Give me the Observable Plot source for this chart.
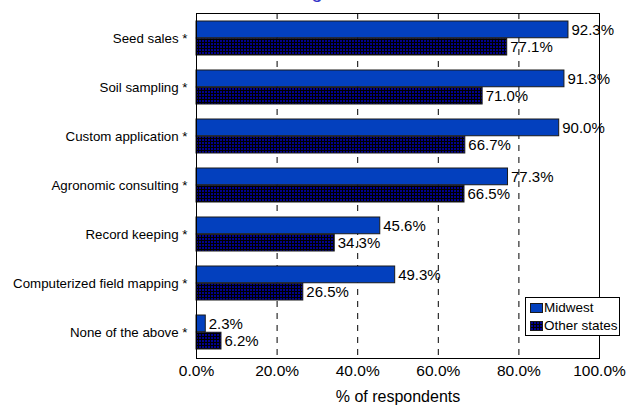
<!DOCTYPE html>
<html>
<head>
<meta charset="utf-8">
<script src="https://cdn.jsdelivr.net/npm/d3@7"></script>
<script src="https://cdn.jsdelivr.net/npm/@observablehq/plot@0.6"></script>
<style>
  html, body { margin: 0; padding: 0; background: white; }
  #wrap { position: relative; width: 628px; height: 408px; overflow: hidden; font-family: "Liberation Sans", Arial, sans-serif; }
  #title { position: absolute; top: -20px; white-space: nowrap; font-size: 20px; line-height: 23px; color: #3535c8; }
  #legend { position: absolute; left: 525px; top: 297px; width: 93px; height: 37px; border: 1px solid #000; background: #fff; font-size: 13.5px; color: #000; }
  #legend .row { position: absolute; left: 4px; height: 18px; line-height: 18px; display: flex; align-items: center; white-space: nowrap; }
  #legend svg { margin-right: 1px; }
</style>
</head>
<body>
<svg width="0" height="0" style="position:absolute">
  <defs>
    <pattern id="checks" width="3" height="3" patternUnits="userSpaceOnUse">
      <rect width="3" height="3" fill="#000090"></rect>
      <path d="M0 0.5H3M0.5 0V3" stroke="#000" stroke-width="1"></path>
    </pattern>
  </defs>
</svg>
<div id="wrap"></div>
<script>
// Services offered, share of respondents by region
const titleText = "Services offered in each region";
const categories = [
  "Seed sales *",
  "Soil sampling *",
  "Custom application *",
  "Agronomic consulting *",
  "Record keeping *",
  "Computerized field mapping *",
  "None of the above *"
];
const seriesNames = ["Midwest", "Other states"];
const midwest = [92.3, 91.3, 90.0, 77.3, 45.6, 49.3, 2.3];
const otherStates = [77.1, 71.0, 66.7, 66.5, 34.3, 26.5, 6.2];
const xTicks = [0, 20, 40, 60, 80, 100];
const xLabel = "% of respondents";

const midRows = categories.map((c, i) => ({category: c, series: seriesNames[0], value: midwest[i]}));
const otherRows = categories.map((c, i) => ({category: c, series: seriesNames[1], value: otherStates[i]}));

const W = 628, H = 408;
const mTop = 13, mBottom = 50, mLeft = 196, mRight = 29;
const padInner = 0.3, padOuter = 0.15;
// half of each category band goes to one series
const step = (H - mTop - mBottom) / (categories.length - padInner + 2 * padOuter);
const half = step * (1 - padInner) / 2;

const pct = v => v.toFixed(1) + "%";
const midColor = "#0340be";
const otherFill = "url(#checks)";
const seriesFill = [midColor, otherFill];

const chart = Plot.plot({
  width: W,
  height: H,
  marginTop: mTop,
  marginBottom: mBottom,
  marginLeft: mLeft,
  marginRight: mRight,
  style: {background: "transparent", fontFamily: "'Liberation Sans', Arial, sans-serif", overflow: "visible", color: "#000"},
  x: {domain: [0, 100], axis: null},
  y: {domain: categories, paddingInner: padInner, paddingOuter: padOuter, axis: null},
  marks: [
    Plot.ruleX(xTicks.filter(t => t > 0 && t < 100), {stroke: "#000", strokeWidth: 1, strokeDasharray: "6,6"}),
    Plot.barX(midRows, {y: "category", x: "value", fill: midColor, stroke: "#1a1a1a", strokeWidth: 1, insetBottom: half}),
    Plot.barX(otherRows, {y: "category", x: "value", fill: otherFill, stroke: "#1a1a1a", strokeWidth: 1, insetTop: half}),
    Plot.text(midRows, {y: "category", x: "value", text: d => pct(d.value), dx: 3, dy: -half / 2, textAnchor: "start", fontSize: 15, fill: "#000"}),
    Plot.text(otherRows, {y: "category", x: "value", text: d => pct(d.value), dx: 3, dy: half / 2, textAnchor: "start", fontSize: 15, fill: "#000"}),
    Plot.text(categories, {y: d => d, frameAnchor: "left", dx: -9, textAnchor: "end", fontSize: 13.3, fill: "#000"}),
    Plot.text(xTicks, {x: d => d, frameAnchor: "bottom", dy: 17, text: d => pct(d), fontSize: 15.5, fill: "#000"}),
    Plot.text([xLabel], {frameAnchor: "bottom", dy: 43, text: d => d, fontSize: 16, fill: "#000"}),
    Plot.frame({stroke: "#000", strokeWidth: 1})
  ]
});

const wrap = document.getElementById("wrap");
wrap.appendChild(chart);

// title sits above the drawing area, centred on the "g"
const title = document.createElement("div");
title.id = "title";
title.textContent = titleText;
wrap.appendChild(title);
const ctx = document.createElement("canvas").getContext("2d");
ctx.font = "20px 'Liberation Sans', Arial, sans-serif";
const gIndex = titleText.indexOf("g");
const pre = ctx.measureText(titleText.slice(0, gIndex)).width;
const gw = ctx.measureText("g").width;
title.style.left = (317 - pre - gw / 2) + "px";

// legend
const NS = "http://www.w3.org/2000/svg";
const legend = document.createElement("div");
legend.id = "legend";
seriesNames.forEach((name, i) => {
  const row = document.createElement("div");
  row.className = "row";
  row.style.top = (1 + i * 18) + "px";
  const sw = document.createElementNS(NS, "svg");
  sw.setAttribute("width", "13");
  sw.setAttribute("height", "10");
  const r = document.createElementNS(NS, "rect");
  r.setAttribute("x", "0.5");
  r.setAttribute("y", "0.5");
  r.setAttribute("width", "12");
  r.setAttribute("height", "9");
  r.setAttribute("fill", seriesFill[i]);
  r.setAttribute("stroke", "#1a1a1a");
  sw.appendChild(r);
  const label = document.createElement("span");
  label.textContent = name;
  row.appendChild(sw);
  row.appendChild(label);
  legend.appendChild(row);
});
wrap.appendChild(legend);
</script>
</body>
</html>
